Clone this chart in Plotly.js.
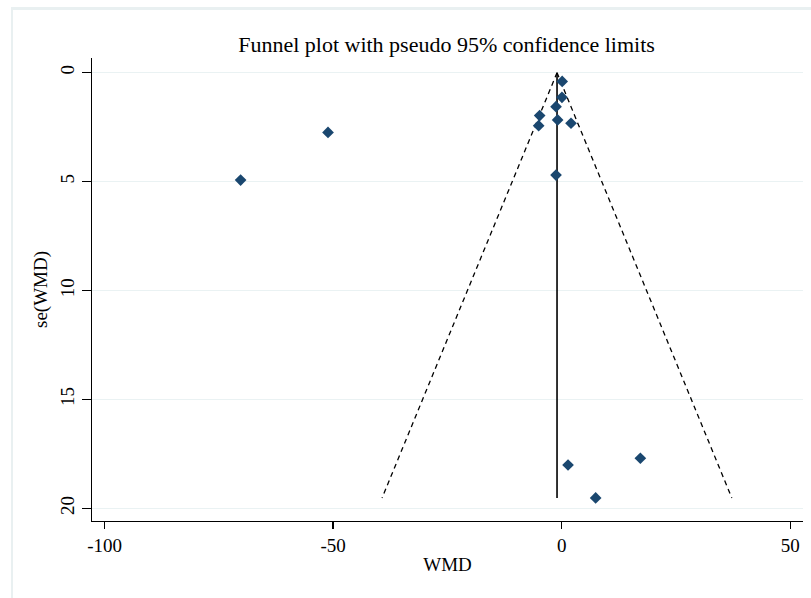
<!DOCTYPE html>
<html>
<head>
<meta charset="utf-8">
<script src="https://cdn.plot.ly/plotly-3.0.1.min.js"></script>
<style>
  html, body { margin: 0; padding: 0; background: #ffffff; }
  #wrap { position: relative; width: 811px; height: 598px; overflow: hidden; }
  #frame { position: absolute; left: 11px; top: 7px; width: 900px; height: 700px;
           border-left: 2px solid #e9f0f1; border-top: 3px solid #e9f0f1; }
  #chart { position: absolute; left: 0; top: 0; width: 811px; height: 598px; }
</style>
</head>
<body>
<div id="wrap">
  <div id="frame"></div>
  <div id="chart"></div>
</div>
<script>
// Study estimates (WMD) and their standard errors
const studyWMD = [-70.25, -51.13, 0.1, 0.05, -1.25, -4.83, -5.05, -0.9, 2.03, -1.25, 1.38, 7.42, 17.2];
const studySE  = [4.93, 2.74, 0.4, 1.13, 1.56, 1.97, 2.43, 2.17, 2.32, 4.70, 18.01, 19.52, 17.7];

// Pooled estimate line
const pooledX  = [-1.03, -1.03];
const pooledSE = [0, 19.52];

// Pseudo 95% confidence limits (end points)
const funnelSE    = [0, 19.52];
const funnelLower = [-1.03, -39.3];
const funnelUpper = [-1.03, 37.2];

// Axis ticks
const xTickVals   = [-100, -50, 0, 50];
const xTickLabels = ["-100", "-50", "0", "50"];
const yTickVals   = [0, 5, 10, 15, 20];
const yTickLabels = ["0", "5", "10", "15", "20"];

const serif = "'Liberation Serif', 'Times New Roman', serif";

const traces = [
  { x: funnelLower, y: funnelSE, type: 'scatter', mode: 'lines',
    line: { color: '#000000', width: 1.3, dash: '5px,4px' }, hoverinfo: 'skip', showlegend: false },
  { x: funnelUpper, y: funnelSE, type: 'scatter', mode: 'lines',
    line: { color: '#000000', width: 1.3, dash: '5px,4px' }, hoverinfo: 'skip', showlegend: false },
  { x: pooledX, y: pooledSE, type: 'scatter', mode: 'lines',
    line: { color: '#000000', width: 1.6 }, hoverinfo: 'skip', showlegend: false },
  { x: studyWMD, y: studySE, type: 'scatter', mode: 'markers',
    marker: { symbol: 'diamond', size: 9, color: '#1a476f', line: { width: 0 } }, showlegend: false }
];

const layout = {
  width: 811, height: 598,
  paper_bgcolor: 'rgba(0,0,0,0)', plot_bgcolor: 'rgba(0,0,0,0)',
  margin: { l: 92, r: 8, t: 58, b: 77, pad: 0 },
  font: { family: serif, color: '#000000', size: 19 },
  title: { text: 'Funnel plot with pseudo 95% confidence limits',
           font: { family: serif, size: 22, color: '#000000' },
           xref: 'container', yref: 'container', x: 0.5506, y: 0.926,
           xanchor: 'center', yanchor: 'middle' },
  xaxis: {
    range: [-102.76, 52.78], tickvals: xTickVals, ticktext: xTickLabels,
    showgrid: false, zeroline: false,
    showline: true, linecolor: '#000000', linewidth: 1.4,
    ticks: 'outside', ticklen: 7, tickwidth: 1.4, tickcolor: '#000000',
    tickfont: { family: serif, size: 19, color: '#000000' },
    title: { text: 'WMD', font: { family: serif, size: 19, color: '#000000' }, standoff: 2 }
  },
  yaxis: {
    range: [20.58, -0.675], tickvals: yTickVals, ticktext: yTickLabels,
    showgrid: true, gridcolor: '#eaf2f3', gridwidth: 1.5, zeroline: false,
    showline: true, linecolor: '#000000', linewidth: 1.4,
    ticks: 'outside', ticklen: 9, tickwidth: 1.4, tickcolor: '#000000',
    tickangle: -90,
    tickfont: { family: serif, size: 19, color: '#000000' },
    title: { text: 'se(WMD)', font: { family: serif, size: 19, color: '#000000' }, standoff: 4 }
  }
};

Plotly.newPlot('chart', traces, layout, { displayModeBar: false, staticPlot: true });
</script>
</body>
</html>
